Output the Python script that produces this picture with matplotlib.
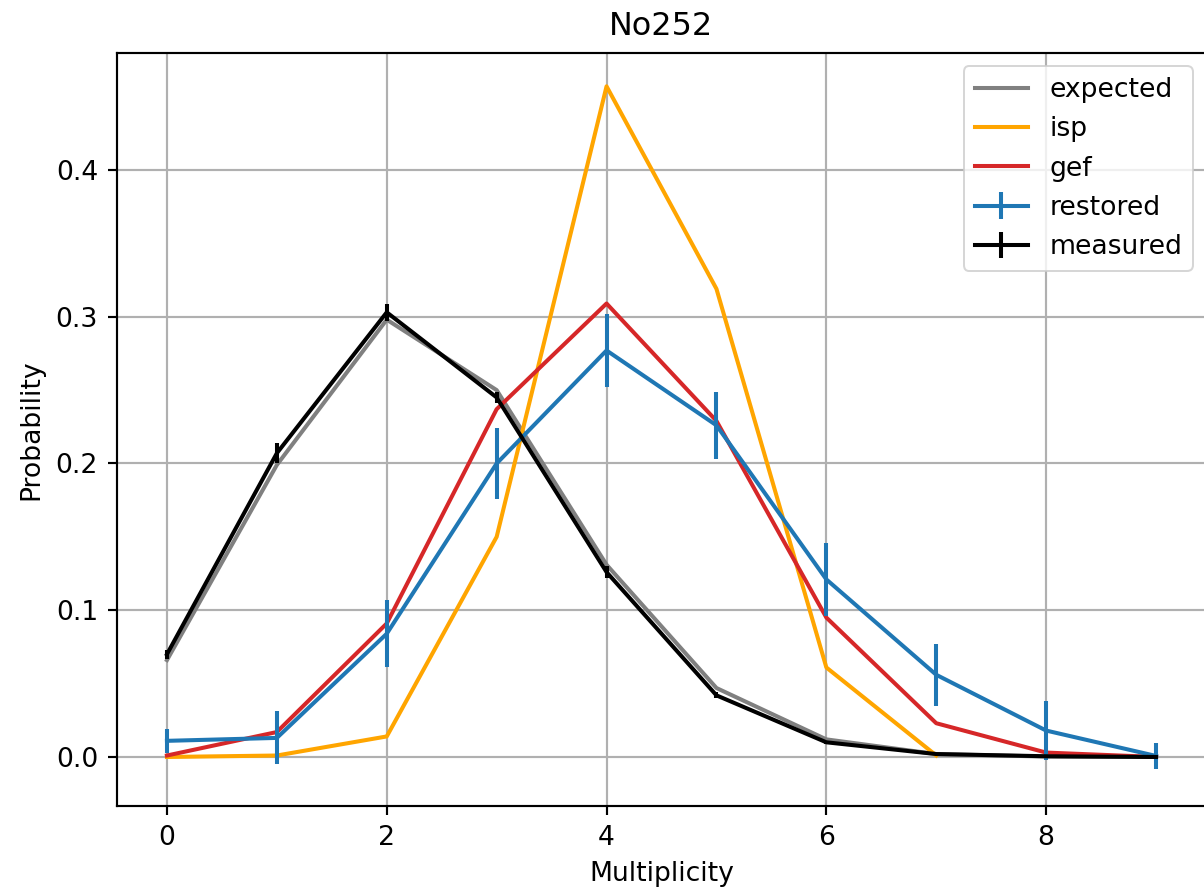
import matplotlib
matplotlib.use("Agg")
import matplotlib.pyplot as plt
import numpy as np

# multiplicity distributions for No252
mult = np.arange(10)
expected = [0.066, 0.199, 0.298, 0.250, 0.131, 0.047, 0.012, 0.002, 0.0003, 0.0]
isp = [0.0, 0.001, 0.014, 0.150, 0.457, 0.319, 0.061, 0.001]
gef = [0.001, 0.017, 0.091, 0.237, 0.309, 0.229, 0.095, 0.023, 0.003, 0.0]
restored = [0.011, 0.013, 0.084, 0.200, 0.277, 0.226, 0.121, 0.056, 0.018, 0.0007]
restored_err = [0.008, 0.018, 0.023, 0.024, 0.025, 0.023, 0.025, 0.021, 0.020, 0.009]
measured = [0.070, 0.207, 0.303, 0.245, 0.126, 0.042, 0.010, 0.002, 0.0005, 0.0]
measured_err = [0.003, 0.007, 0.006, 0.004, 0.004, 0.002, 0.001, 0.0005, 0.0002, 0.0]

# everything a bit bigger than the defaults
s = 1.35
plt.rcParams["font.size"] = 13.3
plt.rcParams["lines.linewidth"] = 1.5 * s
plt.rcParams["axes.linewidth"] = 0.8 * s
plt.rcParams["grid.linewidth"] = 0.8 * s
for a in ("xtick", "ytick"):
    plt.rcParams[a + ".major.size"] = 3.5 * s
    plt.rcParams[a + ".major.width"] = 0.8 * s
    plt.rcParams[a + ".major.pad"] = 3.5 * s

fig = plt.figure(figsize=(1204 / 144, 890 / 144), dpi=144)
ax = fig.add_axes([117 / 1204, 1 - 806 / 890, (1206 - 117) / 1204, (806 - 53) / 890])

ax.plot(mult, expected, color="grey", label="expected")
ax.plot(mult[:len(isp)], isp, color="orange", label="isp")
ax.plot(mult, gef, color="tab:red", label="gef")
ax.errorbar(mult, restored, yerr=restored_err, color="tab:blue", label="restored")
ax.errorbar(mult, measured, yerr=measured_err, color="black", label="measured")

ax.set_xlim(-0.4545, 9.4545)
ax.set_ylim(-0.0334, 0.4797)
ax.grid(True)
ax.set_title("No252", pad=9)
ax.set_xlabel("Multiplicity", labelpad=5)
ax.set_ylabel("Probability", labelpad=5.5)
ax.legend(loc="upper right")

fig.savefig("out.png", dpi=144)
